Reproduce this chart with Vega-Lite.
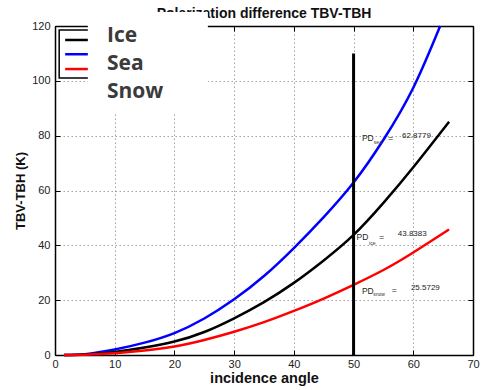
{
  "$schema": "https://vega.github.io/schema/vega-lite/v6.json",
  "width": 418,
  "height": 329,
  "autosize": {"type": "none"},
  "padding": {"left": 55, "top": 26, "right": 8, "bottom": 35},
  "background": "white",
  "config": {"view": {"stroke": null}, "font": "Liberation Sans"},
  "datasets": {
    "curves": [
      {"series": "Sea", "angle": 1.5, "pd": 0},
      {"series": "Sea", "angle": 5, "pd": 0.3},
      {"series": "Sea", "angle": 10, "pd": 2.0},
      {"series": "Sea", "angle": 15, "pd": 4.5},
      {"series": "Sea", "angle": 20, "pd": 8.0},
      {"series": "Sea", "angle": 25, "pd": 13.3},
      {"series": "Sea", "angle": 30, "pd": 20.3},
      {"series": "Sea", "angle": 35, "pd": 28.8},
      {"series": "Sea", "angle": 40, "pd": 39.0},
      {"series": "Sea", "angle": 45, "pd": 50.3},
      {"series": "Sea", "angle": 50, "pd": 62.9},
      {"series": "Sea", "angle": 55, "pd": 78.5},
      {"series": "Sea", "angle": 60, "pd": 97.5},
      {"series": "Sea", "angle": 64.5, "pd": 120},
      {"series": "Ice", "angle": 1.5, "pd": 0},
      {"series": "Ice", "angle": 5, "pd": 0.2},
      {"series": "Ice", "angle": 10, "pd": 1.1},
      {"series": "Ice", "angle": 15, "pd": 2.7},
      {"series": "Ice", "angle": 20, "pd": 4.9},
      {"series": "Ice", "angle": 25, "pd": 8.4},
      {"series": "Ice", "angle": 30, "pd": 13.4},
      {"series": "Ice", "angle": 35, "pd": 19.3},
      {"series": "Ice", "angle": 40, "pd": 26.3},
      {"series": "Ice", "angle": 45, "pd": 34.5},
      {"series": "Ice", "angle": 50, "pd": 43.8},
      {"series": "Ice", "angle": 55, "pd": 55.5},
      {"series": "Ice", "angle": 60, "pd": 68.5},
      {"series": "Ice", "angle": 66, "pd": 85.1},
      {"series": "Snow", "angle": 1.5, "pd": 0},
      {"series": "Snow", "angle": 5, "pd": 0.1},
      {"series": "Snow", "angle": 10, "pd": 0.6},
      {"series": "Snow", "angle": 15, "pd": 1.6},
      {"series": "Snow", "angle": 20, "pd": 3.1},
      {"series": "Snow", "angle": 25, "pd": 5.5},
      {"series": "Snow", "angle": 30, "pd": 8.5},
      {"series": "Snow", "angle": 35, "pd": 12.0},
      {"series": "Snow", "angle": 40, "pd": 16.1},
      {"series": "Snow", "angle": 45, "pd": 20.6},
      {"series": "Snow", "angle": 50, "pd": 25.6},
      {"series": "Snow", "angle": 55, "pd": 31.0},
      {"series": "Snow", "angle": 60, "pd": 37.4},
      {"series": "Snow", "angle": 66, "pd": 45.8}
    ],
    "vline": [{"angle": 50, "lo": 0, "hi": 110}],
    "legendBox": [{"x1": 0.7, "x2": 7, "y1": 101, "y2": 118.5}],
    "legendLines": [
      {"series": "Ice", "lx": 1.7, "ly": 114.9},
      {"series": "Ice", "lx": 6.5, "ly": 114.9},
      {"series": "Sea", "lx": 1.7, "ly": 109.7},
      {"series": "Sea", "lx": 6.5, "ly": 109.7},
      {"series": "Snow", "lx": 1.7, "ly": 104.3},
      {"series": "Snow", "lx": 6.5, "ly": 104.3}
    ],
    "pdLabels": [
      {"label": "PD", "ax": 51.4, "ay": 77.9},
      {"label": "PD", "ax": 50.5, "ay": 41.8},
      {"label": "PD", "ax": 51.4, "ay": 22.2},
      {"label": "=", "ax": 55.8, "ay": 78.0},
      {"label": "=", "ax": 54.3, "ay": 41.8},
      {"label": "=", "ax": 56.4, "ay": 22.6}
    ],
    "pdSubs": [
      {"label": "sea", "ax": 53.4, "ay": 76.9},
      {"label": "ice", "ax": 52.6, "ay": 40.1},
      {"label": "snow", "ax": 53.3, "ay": 21.6}
    ],
    "pdValues": [
      {"label": "62.8779", "ax": 58.1, "ay": 79.3},
      {"label": "43.8383", "ax": 57.4, "ay": 43.4},
      {"label": "25.5729", "ax": 59.6, "ay": 23.7}
    ],
    "titleText": [{"t": "Polarization difference TBV-TBH", "tx": 35, "ty": 122.8}],
    "whiteBox": [{"x1": 5.5, "x2": 25.6, "y1": 88.3, "y2": 125.1}],
    "words": [
      {"word": "Ice", "wx": 8.7, "wy": 114.3},
      {"word": "Sea", "wx": 8.7, "wy": 103.9},
      {"word": "Snow", "wx": 8.7, "wy": 93.6}
    ]
  },
  "resolve": {"axis": {"x": "independent", "y": "independent"}},
  "layer": [
    {
      "data": {"name": "curves"},
      "mark": {"type": "line", "strokeWidth": 2.5, "interpolate": "natural"},
      "encoding": {
        "x": {
          "field": "angle", "type": "quantitative",
          "scale": {"domain": [0, 70], "nice": false, "zero": false},
          "axis": {
            "orient": "bottom", "values": [0, 10, 20, 30, 40, 50, 60, 70],
            "grid": true, "gridColor": "#8c8c8c", "gridDash": [1.5, 2.5], "gridWidth": 0.8,
            "domainColor": "#000", "domainWidth": 1.5,
            "tickColor": "#000", "tickWidth": 1, "tickSize": -5,
            "labelPadding": 8, "labelFontSize": 11, "labelColor": "#222", "labelFont": "Liberation Sans",
            "labelFlush": false,
            "title": "incidence angle", "titleFont": "Liberation Sans", "titleFontSize": 14.5,
            "titleFontWeight": "bold", "titleColor": "#111", "titlePadding": 2
          }
        },
        "y": {
          "field": "pd", "type": "quantitative",
          "scale": {"domain": [0, 120], "nice": false},
          "axis": {
            "orient": "left", "values": [0, 20, 40, 60, 80, 100, 120],
            "grid": true, "gridColor": "#8c8c8c", "gridDash": [1.5, 2.5], "gridWidth": 0.8,
            "domainColor": "#000", "domainWidth": 1.5,
            "tickColor": "#000", "tickWidth": 1, "tickSize": -5,
            "labelPadding": 10, "labelFontSize": 11, "labelColor": "#222", "labelFont": "Liberation Sans",
            "labelFlush": false,
            "title": "TBV-TBH (K)", "titleFont": "Liberation Sans", "titleFontSize": 13,
            "titleFontWeight": "bold", "titleColor": "#111", "titlePadding": 4
          }
        },
        "color": {
          "field": "series", "type": "nominal",
          "scale": {"domain": ["Ice", "Sea", "Snow"], "range": ["#000000", "#0000ff", "#ff0000"]},
          "legend": null
        }
      }
    },
    {
      "data": {"name": "vline"},
      "mark": {"type": "rule", "strokeWidth": 3, "color": "#000"},
      "encoding": {
        "x": {
          "field": "angle", "type": "quantitative",
          "scale": {"domain": [0, 70], "nice": false, "zero": false},
          "axis": {
            "orient": "top", "values": [0, 10, 20, 30, 40, 50, 60, 70],
            "grid": false, "labels": false, "title": null,
            "domainColor": "#000", "domainWidth": 1.5,
            "tickColor": "#000", "tickWidth": 1, "tickSize": -5
          }
        },
        "y": {
          "field": "lo", "type": "quantitative",
          "scale": {"domain": [0, 120], "nice": false},
          "axis": {
            "orient": "right", "values": [0, 20, 40, 60, 80, 100, 120],
            "grid": false, "labels": false, "title": null,
            "domainColor": "#000", "domainWidth": 1.5,
            "tickColor": "#000", "tickWidth": 1, "tickSize": -5
          }
        },
        "y2": {"field": "hi"}
      }
    },
    {
      "data": {"name": "legendBox"},
      "mark": {"type": "rect", "fill": "white", "stroke": "#000", "strokeWidth": 1.5},
      "encoding": {
        "x": {"field": "x1", "type": "quantitative", "scale": {"domain": [0, 70], "nice": false, "zero": false}, "axis": null},
        "x2": {"field": "x2"},
        "y": {"field": "y1", "type": "quantitative", "scale": {"domain": [0, 120], "nice": false}, "axis": null},
        "y2": {"field": "y2"}
      }
    },
    {
      "data": {"name": "legendLines"},
      "mark": {"type": "line", "strokeWidth": 2.5},
      "encoding": {
        "x": {"field": "lx", "type": "quantitative", "scale": {"domain": [0, 70], "nice": false, "zero": false}, "axis": null},
        "y": {"field": "ly", "type": "quantitative", "scale": {"domain": [0, 120], "nice": false}, "axis": null},
        "color": {"field": "series", "type": "nominal", "legend": null}
      }
    },
    {
      "data": {"name": "pdLabels"},
      "mark": {"type": "text", "align": "left", "baseline": "alphabetic", "fontSize": 8.5, "color": "#222", "font": "Liberation Sans"},
      "encoding": {
        "x": {"field": "ax", "type": "quantitative", "scale": {"domain": [0, 70], "nice": false, "zero": false}, "axis": null},
        "y": {"field": "ay", "type": "quantitative", "scale": {"domain": [0, 120], "nice": false}, "axis": null},
        "text": {"field": "label"}
      }
    },
    {
      "data": {"name": "pdSubs"},
      "mark": {"type": "text", "align": "left", "baseline": "alphabetic", "fontSize": 5, "color": "#333", "font": "Liberation Sans"},
      "encoding": {
        "x": {"field": "ax", "type": "quantitative", "scale": {"domain": [0, 70], "nice": false, "zero": false}, "axis": null},
        "y": {"field": "ay", "type": "quantitative", "scale": {"domain": [0, 120], "nice": false}, "axis": null},
        "text": {"field": "label"}
      }
    },
    {
      "data": {"name": "pdValues"},
      "mark": {"type": "text", "align": "left", "baseline": "alphabetic", "fontSize": 8, "color": "#222", "font": "Liberation Sans"},
      "encoding": {
        "x": {"field": "ax", "type": "quantitative", "scale": {"domain": [0, 70], "nice": false, "zero": false}, "axis": null},
        "y": {"field": "ay", "type": "quantitative", "scale": {"domain": [0, 120], "nice": false}, "axis": null},
        "text": {"field": "label"}
      }
    },
    {
      "data": {"name": "titleText"},
      "mark": {"type": "text", "align": "center", "baseline": "alphabetic", "fontSize": 14, "fontWeight": "bold", "color": "#111", "font": "Liberation Sans"},
      "encoding": {
        "x": {"field": "tx", "type": "quantitative", "scale": {"domain": [0, 70], "nice": false, "zero": false}, "axis": null},
        "y": {"field": "ty", "type": "quantitative", "scale": {"domain": [0, 120], "nice": false}, "axis": null},
        "text": {"field": "t"}
      }
    },
    {
      "data": {"name": "whiteBox"},
      "mark": {"type": "rect", "fill": "white", "stroke": null},
      "encoding": {
        "x": {"field": "x1", "type": "quantitative", "scale": {"domain": [0, 70], "nice": false, "zero": false}, "axis": null},
        "x2": {"field": "x2"},
        "y": {"field": "y1", "type": "quantitative", "scale": {"domain": [0, 120], "nice": false}, "axis": null},
        "y2": {"field": "y2"}
      }
    },
    {
      "data": {"name": "words"},
      "mark": {"type": "text", "align": "left", "baseline": "alphabetic", "fontSize": 21, "fontWeight": "bold", "color": "#3b3b3b", "font": "Open Sans"},
      "encoding": {
        "x": {"field": "wx", "type": "quantitative", "scale": {"domain": [0, 70], "nice": false, "zero": false}, "axis": null},
        "y": {"field": "wy", "type": "quantitative", "scale": {"domain": [0, 120], "nice": false}, "axis": null},
        "text": {"field": "word"}
      }
    }
  ]
}
